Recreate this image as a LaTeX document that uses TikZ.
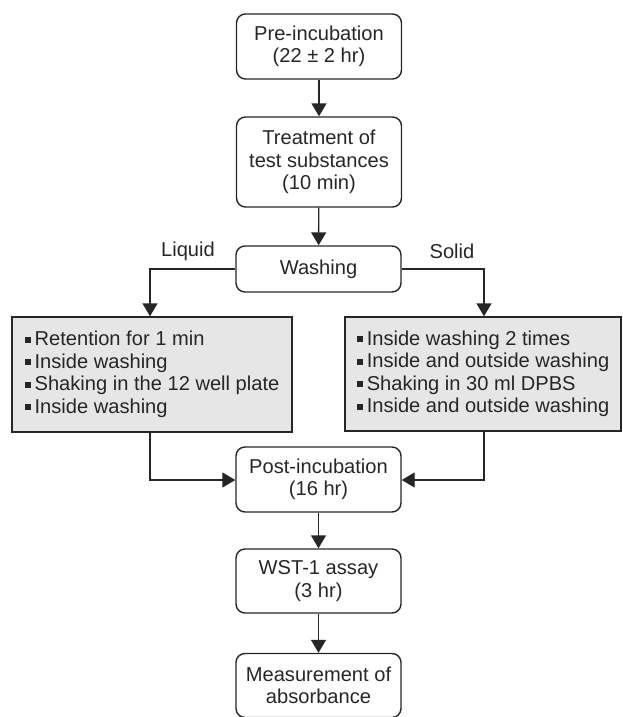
\documentclass[tikz,border=0pt]{standalone}
\usepackage{fontspec}
\setmainfont{Liberation Sans}
\usetikzlibrary{arrows.meta}
\definecolor{ln}{HTML}{262626}
\definecolor{gfill}{HTML}{E6E6E6}
\newcommand{\bul}{\raisebox{3pt}{\rule{6pt}{6pt}}\hspace{4pt}}
\begin{document}
\begin{tikzpicture}[x=1pt,y=-1pt,
  every node/.style={font=\fontsize{20.1}{22.5}\selectfont, text=ln},
  stepbox/.style={draw=ln, line width=1.4pt, rounded corners=9pt, minimum width=165pt, align=center, inner sep=0pt},
  graybox/.style={draw=ln, line width=1.4pt, fill=gfill, align=left, inner sep=0pt},
  conn/.style={draw=ln, line width=1.4pt, -{Triangle[width=15pt,length=13pt]}},
  lbl/.style={inner sep=0pt}
]
\useasboundingbox (0,0) rectangle (622,717);
\node[stepbox, minimum height=65pt] (pre) at (319,46.5) {Pre-incubation\\(22 ± 2 hr)};
\node[stepbox, minimum height=90pt] (treat) at (319,162) {Treatment of\\test substances\\(10 min)};
\node[stepbox, minimum height=46pt] (wash) at (318.5,269) {Washing};
\node[graybox, minimum width=280pt, minimum height=115pt] (liq) at (152,374.5)
  {\bul Retention for 1 min\\\bul Inside washing\\\bul Shaking in the 12 well plate\\\bul Inside washing};
\node[graybox, minimum width=276pt, minimum height=114pt] (sol) at (483,374)
  {\bul Inside washing 2 times\\\bul Inside and outside washing\\\bul Shaking in 30 ml DPBS\\\bul Inside and outside washing};
\node[stepbox, minimum height=65pt] (post) at (318.5,479.5) {Post-incubation\\(16 hr)};
\node[stepbox, minimum height=64pt] (wst) at (318.5,581) {WST-1 assay\\(3 hr)};
\node[stepbox, minimum height=64pt] (meas) at (318.5,685.5) {Measurement of\\absorbance};
\node[lbl] (liqlbl) at (188,251) {Liquid};
\node[lbl] (sollbl) at (452,251) {Solid};
\coordinate (lc) at (150,269);
\coordinate (rc) at (484,269);
\coordinate (lb) at (150,480);
\coordinate (rb) at (484,480);
\draw[conn] (pre) -- (treat);
\draw[conn] (treat) -- (wash);
\draw[conn] (wash.west) -- (lc) -- (lc |- liq.north);
\draw[conn] (wash.east) -- (rc) -- (rc |- sol.north);
\draw[conn] (lb |- liq.south) -- (lb) -- (post.west |- lb);
\draw[conn] (rb |- sol.south) -- (rb) -- (post.east |- rb);
\draw[conn] (post) -- (wst);
\draw[conn] (wst) -- (meas);
\end{tikzpicture}
\end{document}
